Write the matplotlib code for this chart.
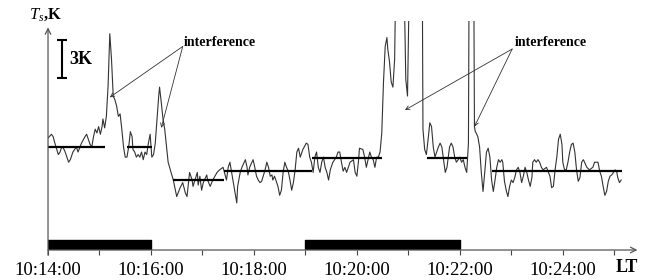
import numpy as np
import matplotlib.pyplot as plt

plt.rcParams['font.family'] = ['Liberation Serif', 'DejaVu Serif']
plt.rcParams['mathtext.fontset'] = 'custom'
plt.rcParams['mathtext.it'] = 'Liberation Serif:italic'
plt.rcParams['mathtext.rm'] = 'Liberation Serif'

# time in seconds after 10:14:00 LT
t_sec = [0, 4, 6, 8, 12, 14, 16, 18, 20, 24, 26, 29, 33, 35, 39, 43, 45, 47, 49, 51,
         53, 55, 57, 59, 61, 63, 64, 66, 68, 70, 72, 74, 76, 78, 80, 82, 84, 86, 88, 90,
         92, 94, 96, 98, 99, 101, 103, 105, 107, 109, 111, 113, 115, 117, 119, 121, 123, 125, 127, 129,
         130, 132, 134, 136, 140, 146, 150, 154, 157, 160, 162, 165, 168, 169, 174, 175, 177, 179, 181, 185,
         186, 189, 192, 197, 200, 204, 208, 210, 212, 214, 216, 220, 221, 224, 226, 230, 232, 233, 235, 239,
         241, 243, 245, 247, 249, 253, 255, 257, 259, 261, 262, 264, 268, 270, 272, 274, 276, 278, 280, 282,
         284, 286, 288, 290, 292, 294, 297, 301, 303, 305, 307, 309, 311, 313, 315, 317, 319, 321, 323, 325,
         327, 329, 332, 336, 338, 340, 342, 344, 346, 348, 352, 356, 358, 360, 362, 363, 367, 369, 371, 373,
         375, 377, 379, 381, 383, 385, 387, 389, 391, 393, 395, 396, 398, 400, 402, 404, 406, 414, 417, 419,
         422, 436, 437, 439, 441, 443, 445, 447, 449, 451, 453, 455, 457, 459, 461, 463, 465, 468, 470, 472,
         474, 476, 478, 480, 482, 484, 486, 488, 490, 491, 496, 497, 498, 499, 501, 503, 505, 507, 509, 511,
         513, 515, 517, 519, 521, 523, 525, 527, 529, 530, 532, 534, 536, 538, 540, 542, 544, 546, 548, 550,
         552, 554, 556, 558, 560, 562, 564, 565, 567, 569, 571, 573, 575, 577, 581, 585, 587, 589, 591, 593,
         595, 597, 599, 600, 602, 604, 606, 608, 610, 612, 614, 616, 618, 620, 622, 624, 628, 631, 635, 637,
         641, 643, 645, 647, 649, 651, 653, 655, 657, 661, 663, 664, 666, 668]
# antenna temperature, K (values above the frame are off scale)
ts_k = [8.8, 9.1, 8.9, 8.4, 7.5, 7.7, 8.1, 8.0, 7.7, 6.9, 7.1, 7.7, 8.1, 7.7, 8.4, 8.9, 9.1, 8.7, 8.3, 8.1,
        8.9, 9.5, 9.2, 9.7, 9.1, 9.7, 10.3, 9.6, 10.5, 12.9, 17.0, 15.0, 12.1, 11.8, 11.3, 10.5, 10.7, 9.5, 8.1, 7.3,
        7.3, 8.1, 9.3, 8.9, 7.9, 7.7, 7.3, 7.5, 7.3, 7.7, 7.1, 7.7, 7.5, 8.4, 9.1, 7.3, 7.5, 8.4, 10.3, 12.1,
        12.8, 11.6, 10.3, 9.5, 6.9, 5.5, 4.2, 4.9, 5.3, 4.5, 4.2, 6.1, 5.5, 5.0, 6.1, 5.1, 5.8, 4.7, 5.3, 5.9,
        5.5, 5.0, 5.5, 6.1, 6.3, 6.5, 5.5, 6.5, 6.9, 6.1, 5.3, 3.7, 5.0, 6.1, 6.5, 7.1, 6.5, 5.9, 6.5, 7.1,
        6.5, 5.8, 5.5, 5.3, 5.4, 6.3, 6.9, 6.5, 5.8, 5.9, 5.5, 5.8, 5.0, 4.3, 4.7, 6.1, 6.9, 6.5, 6.2, 5.5,
        4.7, 5.3, 6.3, 7.7, 8.0, 7.3, 7.9, 8.4, 8.3, 7.3, 6.9, 6.1, 7.3, 7.7, 6.5, 6.1, 6.9, 7.3, 6.5, 6.1,
        5.5, 6.3, 6.9, 7.3, 7.7, 7.7, 6.9, 6.2, 6.5, 6.1, 6.9, 7.1, 6.1, 5.8, 7.1, 8.0, 7.9, 7.3, 6.5, 7.1,
        7.7, 7.3, 7.1, 6.5, 7.3, 7.3, 7.7, 9.2, 13.2, 16.0, 16.7, 15.8, 14.8, 13.2, 12.8, 15.0, 25.0, 25.0, 13.4, 12.1,
        25.0, 25.0, 9.5, 7.9, 7.5, 8.7, 10.0, 9.7, 8.1, 7.3, 7.7, 8.1, 8.4, 8.1, 7.1, 6.1, 6.5, 8.1, 8.4, 8.1,
        7.3, 6.9, 7.1, 7.3, 6.9, 7.1, 6.5, 6.1, 8.4, 25.0, 25.0, 9.7, 9.3, 9.2, 8.9, 8.1, 6.1, 4.6, 6.1, 7.7,
        8.0, 7.3, 5.5, 4.6, 5.5, 6.5, 7.1, 6.9, 7.1, 6.9, 5.4, 4.7, 4.2, 5.0, 5.5, 5.3, 5.7, 6.3, 6.5, 6.1,
        5.3, 5.8, 6.5, 6.1, 5.5, 5.0, 5.7, 6.9, 7.1, 6.9, 7.1, 6.9, 6.5, 6.3, 6.5, 5.8, 4.9, 5.0, 6.3, 7.3,
        8.7, 9.1, 8.3, 6.9, 6.3, 6.3, 6.9, 7.7, 8.3, 8.4, 7.7, 6.3, 5.4, 5.7, 6.9, 7.1, 6.5, 6.3, 6.5, 6.9,
        6.9, 6.2, 5.8, 5.0, 4.3, 4.6, 5.4, 5.8, 5.9, 6.3, 6.1, 5.7, 5.3, 5.5]

# averaged levels
lvl_start = [0, 92, 146, 205, 308, 442, 518]
lvl_end = [66, 121, 205, 308, 389, 488, 669]
lvl_val = [8.1, 8.1, 5.5, 6.2, 7.2, 7.2, 6.2]

# black bars on the time axis
bar_start = [0, 300]
bar_len = [120, 180]

tick_sec = list(range(0, 661, 60))
tick_labels = ['10:14:00', '', '10:16:00', '', '10:18:00', '', '10:20:00', '',
               '10:22:00', '', '10:24:00', '']

fig = plt.figure(figsize=(6.48, 2.8), dpi=100)
ax = fig.add_axes([0.0741, 0.1071, 0.9136, 0.8179])
ax.set_xlim(0, 690)
ax.set_ylim(0, 18.0)
for s in ax.spines.values():
    s.set_visible(False)

ax.plot(t_sec, ts_k, color='#333333', lw=0.8)
ax.hlines(lvl_val, lvl_start, lvl_end, color='black', lw=1.6)
ax.broken_barh(list(zip(bar_start, bar_len)), (0, 0.8), color='black')

# axes with arrows
ax.annotate('', xy=(687, 0), xytext=(0, 0), annotation_clip=False,
            arrowprops=dict(arrowstyle='->', lw=0.9, color='#555555', shrinkA=0, shrinkB=0))
ax.annotate('', xy=(0, 17.5), xytext=(0, -0.4), annotation_clip=False,
            arrowprops=dict(arrowstyle='->', lw=0.9, color='#555555', shrinkA=0, shrinkB=0))

ax.set_xticks(tick_sec)
ax.set_xticklabels(tick_labels)
ax.set_yticks([])
ax.tick_params(axis='x', direction='out', length=3.6, width=0.8, pad=5,
               labelsize=13.5, color='#444444')

# 3 K scale
ax.vlines(16.3, 13.5, 16.5, color='black', lw=1.5)
ax.hlines([13.5, 16.5], 11, 22, color='black', lw=1.5)
ax.text(25, 15.0, '3K', fontsize=13, fontweight='bold', va='center', ha='left')

# interference labels
ax.text(200, 16.3, 'interference', fontsize=10, fontweight='bold', ha='center', va='center')
ax.text(586, 16.3, 'interference', fontsize=10, fontweight='bold', ha='center', va='center')
arr = dict(arrowstyle='->', lw=0.6, color='#333333', shrinkA=0, shrinkB=0, mutation_scale=7)
for src, dst in [((157, 16.0), (72, 12.0)), ((157, 16.0), (132, 9.6)),
                 ((541, 15.8), (416, 11.0)), ((541, 15.8), (497, 9.7))]:
    ax.annotate('', xy=dst, xytext=src, arrowprops=arr, annotation_clip=False)

fig.text(46 / 648, 1 - 15 / 280, r'$T_s$,K', fontsize=12, fontweight='bold',
         ha='center', va='center')
fig.text(627 / 648, 1 - 268 / 280, 'LT', fontsize=13, fontweight='bold',
         ha='center', va='center')

fig.savefig('out.png', dpi=100)
